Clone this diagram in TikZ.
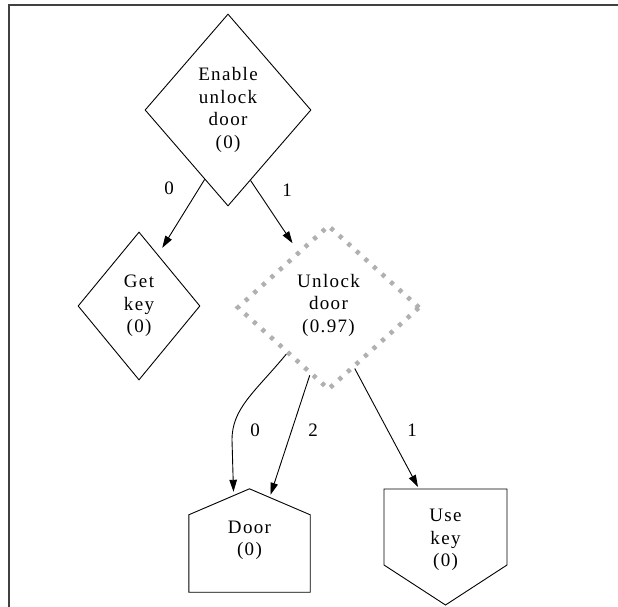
\documentclass[tikz,border=0pt]{standalone}
\usepackage{fontspec}
\setmainfont{Liberation Serif}[LetterSpace=7]
\usetikzlibrary{shapes.geometric,arrows.meta,calc}

\tikzset{
  nodetext/.style={font=\fontsize{19}{22.5}\selectfont, align=center, inner sep=0pt},
  decision/.style={nodetext, diamond, draw, line width=0.9pt, text width=1pt},
  chance/.style={nodetext, diamond, draw=gray!62, line width=4.5pt, line cap=butt,
    dash pattern=on 4pt off 7.5pt, text width=1pt},
  valuebox/.style={nodetext},
  outline/.style={draw, line width=0.9pt, line join=miter},
  arr/.style={draw, line width=0.9pt, -{Triangle[length=12pt,width=7.5pt]}},
  elabel/.style={font=\fontsize{19}{20}\selectfont, inner sep=0pt},
  frameline/.style={draw=black!75, line width=1.6pt}
}

\begin{document}
\begin{tikzpicture}[x=1pt, y=-1pt]
  \useasboundingbox (0,0) rectangle (618,607);
  \fill[white] (0,0) rectangle (618,607);

  % frame (top and left edges)
  \coordinate (fbl) at (9,607);
  \coordinate (ftl) at (9,5);
  \coordinate (ftr) at (618,5);
  \draw[frameline] (fbl) -- (ftl) -- (ftr);

  % decision nodes
  \node[decision, minimum width=166pt, minimum height=192pt] (enable) at (228,110)
    {\makebox[0pt]{Enable}\\\makebox[0pt]{unlock}\\\makebox[0pt]{door}\\\makebox[0pt]{(0)}};
  \node[decision, minimum width=122pt, minimum height=148pt] (getkey) at (139,306)
    {\makebox[0pt]{Get}\\\makebox[0pt]{key}\\\makebox[0pt]{(0)}};

  % chance node
  \node[chance, minimum width=183pt, minimum height=165pt] (unlock) at (328.5,307.5) {};
  \node[nodetext] (unlocktext) at (328.5,305)
    {Unlock\\door\\(0.97)};

  % value nodes
  \node[valuebox, minimum width=121pt, minimum height=103pt] (door) at (249.5,540.5)
    {Door\\(0)};
  \draw[outline] (door.south west) -- ([shift={(0,26)}]door.north west)
    -- (door.north) -- ([shift={(0,26)}]door.north east) -- (door.south east) -- cycle;

  \node[valuebox] (usekey) at (445.5,540) {Use\\key\\(0)};
  \draw[outline] ([shift={(-61.5,-51)}]usekey.center) -- ([shift={(61.5,-51)}]usekey.center)
    -- ([shift={(61.5,25)}]usekey.center) -- ([shift={(0,65)}]usekey.center)
    -- ([shift={(-61.5,25)}]usekey.center) -- cycle;

  % connectors
  \draw[arr, shorten >=8pt] ($(enable.south)!0.28!(enable.west)$) -- ($(getkey.north)!0.31!(getkey.east)$);
  \draw[arr, shorten >=9pt] ($(enable.south)!0.27!(enable.east)$) -- ($(unlock.north)!0.33!(unlock.west)$);
  \draw[arr] ($(unlock.west)!0.55!(unlock.south)$) .. controls (255,392) and (232,408) .. (232,440)
    -- ([shift={(-16,3)}]door.north);
  \draw[arr] ($(unlock.west)!0.8!(unlock.south)$) -- ([shift={(21,6)}]door.north);
  \draw[arr] ($(unlock.east)!0.72!(unlock.south)$) -- ([shift={(-27.5,-53)}]usekey.center);

  % connector labels
  \node[elabel] (l0) at (169,188) {0};
  \node[elabel] (l1) at (287,190) {1};
  \node[elabel] (l2) at (255,430) {0};
  \node[elabel] (l3) at (313,430) {2};
  \node[elabel] (l4) at (412,430) {1};
\end{tikzpicture}
\end{document}
